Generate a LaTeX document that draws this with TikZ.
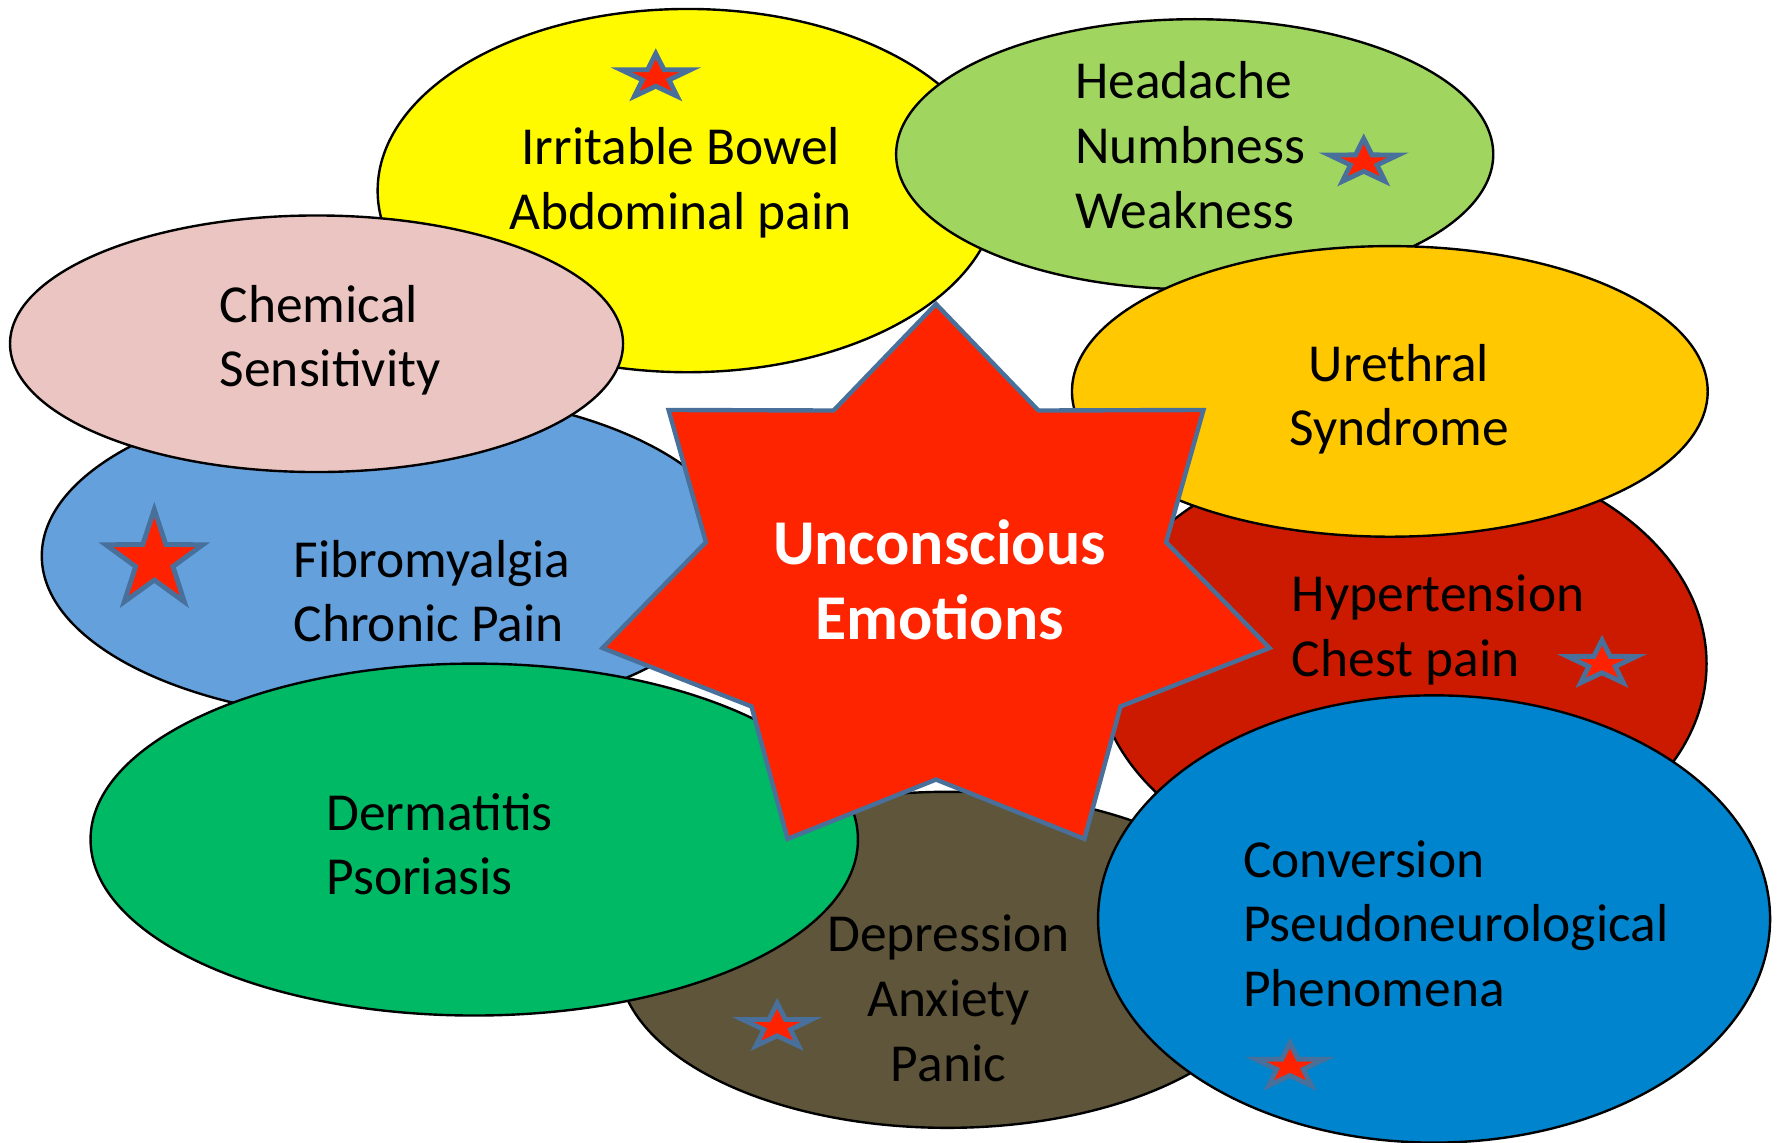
\documentclass[tikz,border=0pt]{standalone}
\usepackage{fontspec}
\setmainfont{Carlito}
\usepackage{xcolor}
\usetikzlibrary{shapes.geometric}
\definecolor{lemon}{HTML}{FFFA00}
\definecolor{lime}{HTML}{A0D660}
\definecolor{blush}{HTML}{EAC5C2}
\definecolor{amber}{HTML}{FFC800}
\definecolor{sky}{HTML}{64A0DC}
\definecolor{brick}{HTML}{CC1A00}
\definecolor{emerald}{HTML}{00B964}
\definecolor{mud}{HTML}{5E553A}
\definecolor{ocean}{HTML}{0084CE}
\definecolor{flame}{HTML}{FF2400}
\definecolor{starred}{HTML}{FF2200}
\definecolor{starline}{HTML}{48709B}
\tikzset{
  % A symptom bubble: fill / width / height
  bubble/.style n args={3}{
    ellipse, draw=black, line width=0.6pt, fill=#1,
    inner sep=0pt, minimum width=#2, minimum height=#3},
  % The words inside a bubble
  sym/.style={
    font=\fontsize{13.4}{16.2}\selectfont, text=black,
    inner sep=0pt, align=left},
  % A small marker star
  redstar/.style={
    star, star points=5, star point ratio=2.6, draw=starline,
    fill=starred, line width=1.2pt, inner sep=0pt, minimum size=#1},
  % The big seven-point star in the middle
  corestar/.style={
    draw=starline, fill=flame, line width=1.1pt, line join=miter},
  coretext/.style={
    font=\fontsize{16}{19}\selectfont\bfseries, text=white,
    inner sep=0pt, align=center},
}
\begin{document}
\begin{tikzpicture}[x=0.01cm, y=-0.01cm]
\useasboundingbox (0,0) rectangle (1568,1007);

% top row
\node[bubble={lemon}{5.46cm}{3.2cm}] (bowel) at (606,168) {};
\node[sym, align=center] (bowel-txt) at (600,161) {Irritable Bowel\\Abdominal pain};
\node[redstar=0.64cm, yscale=0.65] (bowel-star) at (578,68) {};

\node[bubble={lime}{5.26cm}{2.38cm}] (headache) at (1053,136) {};
\node[sym, anchor=west] (headache-txt) at (947,128) {Headache\\Numbness\\Weakness};
\node[redstar=0.64cm, yscale=0.65] (headache-star) at (1202,143) {};

% left side
\node[bubble={sky}{6.16cm}{2.9cm}] (fibro) at (345,490) {};
\node[sym, anchor=west] (fibro-txt) at (258,521) {Fibromyalgia\\Chronic Pain};
\node[redstar=0.9cm] (fibro-star) at (136,494) {};

\node[bubble={blush}{5.4cm}{2.26cm}] (chemical) at (279,303) {};
\node[sym, anchor=west] (chemical-txt) at (193,300) {Chemical\\Sensitivity};

% right side
\node[bubble={brick}{5.38cm}{3.8cm}] (hyper) at (1235,585) {};
\node[sym, anchor=west] (hyper-txt) at (1138,555) {Hypertension\\Chest pain};
\node[redstar=0.64cm, yscale=0.65] (hyper-star) at (1412,585) {};

\node[bubble={amber}{5.6cm}{2.56cm}] (urethral) at (1225,345) {};
\node[sym, align=center] (urethral-txt) at (1233,352) {Urethral\\Syndrome};

% bottom row
\node[bubble={mud}{5.8cm}{2.96cm}] (depress) at (835,846) {};
\node[sym, align=center] (depress-txt) at (836,880) {Depression\\Anxiety\\Panic};
\node[redstar=0.64cm, yscale=0.65] (depress-star) at (685,905) {};

\node[bubble={emerald}{6.76cm}{3.1cm}] (derma) at (418,740) {};
\node[sym, anchor=west] (derma-txt) at (287,744) {Dermatitis\\Psoriasis};

\node[bubble={ocean}{5.92cm}{3.94cm}] (convert) at (1264,810) {};
\node[sym, anchor=west] (convert-txt) at (1095,814) {Conversion\\Pseudoneurological\\Phenomena};
\node[redstar=0.64cm, yscale=0.65] (convert-star) at (1137,940) {};

% centre
\coordinate (hub) at (825,516);
\draw[corestar] (hub) +(-90:301.5 and 248)
  \foreach \k [evaluate=\k as \r using {mod(\k,2)==0 ? 1 : 0.69}] in {1,...,13} {
    -- +({-90+\k*180/7}:{301.5*\r} and {248*\r})
  } -- cycle;
\node[coretext] (core) at (828,511) {Unconscious\\Emotions};

\end{tikzpicture}
\end{document}
